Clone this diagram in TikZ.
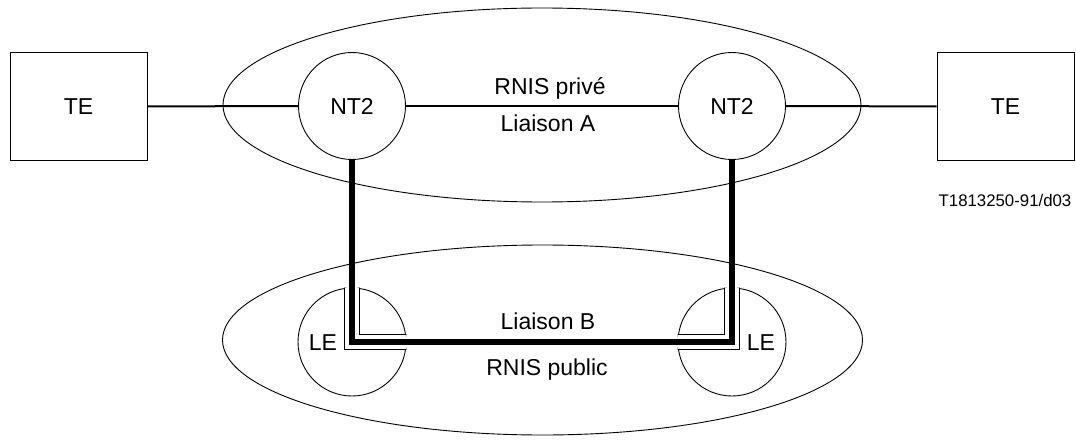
\documentclass[tikz,border=0pt]{standalone}
\usepackage{fontspec}
\setmainfont{Liberation Sans}
\usetikzlibrary{shapes.geometric}
\usetikzlibrary{positioning}
\tikzset{term/.style={rectangle,draw,line width=1pt,inner sep=0pt,
minimum width=137pt, minimum height=107pt, font=\fontsize{23}{23}\selectfont},
ntwo/.style={circle,draw,line width=0.9pt,inner sep=0pt,
minimum size=107pt, font=\fontsize{23}{23}\selectfont},
exch/.style={ntwo,minimum size=108pt},
net/.style={ellipse,draw,line width=0.9pt,inner sep=0pt},
txt/.style={inner sep=0pt, anchor=base, font=\fontsize{23}{23}\selectfont},
tag/.style={inner sep=0pt, anchor=base, font=\fontsize{16.8}{16.8}\selectfont},
link/.style={line width=2pt},
trunk/.style={line width=6pt, line join=miter}}

\begin{document}
\begin{tikzpicture}[x=1pt,y=-1pt]
  \useasboundingbox (0,0) rectangle (1076,441);

  \node (priv) [net, minimum width=638pt, minimum height=194pt] at (542,105) {};
  \node (pub) [net, minimum width=640pt, minimum height=190pt] at (542.5,340) {};

  \node (tea) [term] at (78.5,106.5) {TE};
  \node (teb) [term] at (1005.5,106.5) {TE};
  \node (nta) [ntwo] at (352,106) {NT2};
  \node (ntb) [ntwo] at (732,106) {NT2};
  \node (lea) [exch] at (352,342) {};
  \node (leb) [exch] at (732,342) {};

  \draw [link] (tea) -- (nta);
  \draw [link] (nta) -- (ntb);
  \draw [link] (ntb) -- (teb);

  % cut the LE circles along the trunk
  \foreach \le in {lea,leb} {
    \begin{scope}
      \clip (\le.center) circle (55pt);
      \draw [line width=16pt, line join=miter] (nta.south) -- (lea.center) -- (leb.center) -- (ntb.south);
      \draw [line width=14pt, line join=miter, white] (nta.south) -- (lea.center) -- (leb.center) -- (ntb.south);
    \end{scope}
  }
  \draw [trunk] (nta.south) -- (lea.center) -- (leb.center) -- (ntb.south);

  \node (lbla) [txt] at (323,350.5) {LE};
  \node (lblb) [txt] at (761,350.5) {LE};
  \node (capriv) [txt] at (550,94.5) {RNIS privé};
  \node (capa) [txt] at (548,131.5) {Liaison A};
  \node (capb) [txt] at (548,329.5) {Liaison B};
  \node (capub) [txt] at (547,375.5) {RNIS public};
  \node (ref) [tag] at (1005,206) {T1813250-91/d03};
\end{tikzpicture}
\end{document}
